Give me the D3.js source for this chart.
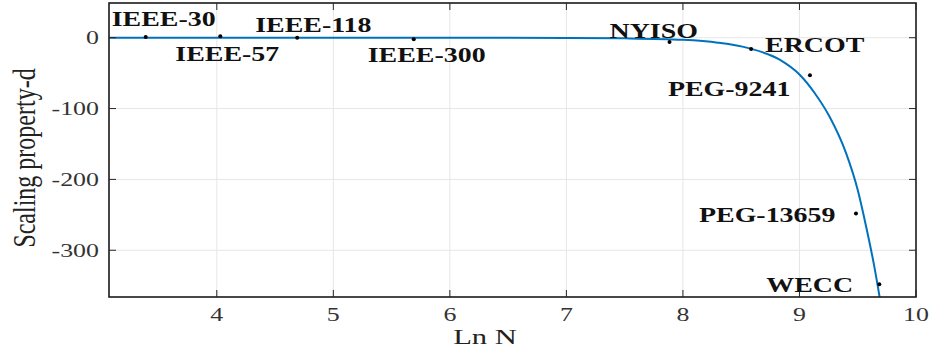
<!DOCTYPE html>
<html lang="en">
<head>
    <meta charset="UTF-8">
    <title>Scaling property-d vs Ln N</title>
    <script src="https://d3js.org/d3.v7.min.js"></script>
    <style>
        body { margin: 0; background: #fff; }
        svg { display: block; }
        .grid line { stroke: #e6e6e6; stroke-width: 1; }
        .tick-label { font-family: 'Liberation Serif', serif; font-size: 18.5px; fill: #333; }
        .sys-label { font-family: 'Liberation Serif', serif; font-size: 21px; font-weight: bold; fill: #111; }
        .axis-title { font-family: 'Liberation Serif', serif; fill: #222; }
    </style>
</head>
<body>
<div id="chart"></div>
<script>
    // test systems: name, ln of bus count, scaling property d
    const systems = ['IEEE-30', 'IEEE-57', 'IEEE-118', 'IEEE-300', 'NYISO', 'ERCOT', 'PEG-9241', 'PEG-13659', 'WECC'];
    const lnN = [3.39, 4.03, 4.69, 5.69, 7.885, 8.585, 9.09, 9.485, 9.685];
    const dValues = [1, 2, 0, -2, -6, -16, -53, -248, -348];

    // fitted curve
    const fitX = [3.075, 6.0, 7.0, 7.5, 8.0, 8.3, 8.57, 8.83, 9.0, 9.13, 9.26, 9.40, 9.50, 9.57, 9.64, 9.70];
    const fitY = [0, 0, -0.3, -0.9, -3, -7, -15, -31, -52, -78, -112, -163, -215, -265, -321, -378];

    const xTicks = [4, 5, 6, 7, 8, 9, 10];
    const yTicks = [0, -100, -200, -300];

    // label placement relative to each point (left edge, baseline)
    const labelDx = [-34, -45, -42, -46, -60, 14, -142, -157, -113];
    const labelDy = [-11, 25, -6, 23, -4, 3, 21, 9, 8];

    const width = 933, height = 354;
    const plotL = 109, plotR = 916, plotT = 3, plotB = 297;
    const stretch = 1.33;

    const svg = d3.select('#chart').append('svg')
        .attr('width', width)
        .attr('height', height);

    const x = d3.scaleLinear().domain([3.075, 10]).range([plotL, plotR]);
    const y = d3.scaleLinear().domain([-366, 49]).range([plotB, plotT]);

    // grid
    const grid = svg.append('g').attr('class', 'grid');
    grid.selectAll('.gx').data(xTicks.filter(t => t < 10)).enter().append('line')
        .attr('x1', d => x(d)).attr('x2', d => x(d))
        .attr('y1', plotT).attr('y2', plotB);
    grid.selectAll('.gy').data(yTicks).enter().append('line')
        .attr('x1', plotL).attr('x2', plotR)
        .attr('y1', d => y(d)).attr('y2', d => y(d));

    // fitted curve
    svg.append('clipPath').attr('id', 'clip')
        .append('rect').attr('x', plotL).attr('y', plotT)
        .attr('width', plotR - plotL).attr('height', plotB - plotT);

    const line = d3.line()
        .x((d, i) => x(fitX[i]))
        .y(d => y(d))
        .curve(d3.curveMonotoneX);

    svg.append('path')
        .datum(fitY)
        .attr('clip-path', 'url(#clip)')
        .attr('fill', 'none')
        .attr('stroke', '#0072BD')
        .attr('stroke-width', 2)
        .attr('d', line);

    // box and inward ticks on all sides
    svg.append('rect')
        .attr('x', plotL).attr('y', plotT)
        .attr('width', plotR - plotL).attr('height', plotB - plotT)
        .attr('fill', 'none').attr('stroke', '#1a1a1a').attr('stroke-width', 1.6);

    const tickLen = 7;
    const ticks = svg.append('g').attr('stroke', '#262626').attr('stroke-width', 1);
    xTicks.forEach(t => {
        ticks.append('line').attr('x1', x(t)).attr('x2', x(t)).attr('y1', plotB).attr('y2', plotB - tickLen);
        ticks.append('line').attr('x1', x(t)).attr('x2', x(t)).attr('y1', plotT).attr('y2', plotT + tickLen);
    });
    yTicks.forEach(t => {
        ticks.append('line').attr('x1', plotL).attr('x2', plotL + tickLen).attr('y1', y(t)).attr('y2', y(t));
        ticks.append('line').attr('x1', plotR).attr('x2', plotR - tickLen).attr('y1', y(t)).attr('y2', y(t));
    });

    // tick labels (the original figure is stretched horizontally)
    svg.selectAll('.xt').data(xTicks).enter().append('text')
        .attr('class', 'tick-label')
        .attr('text-anchor', 'middle')
        .attr('transform', d => `translate(${x(d)},321) scale(1.4,1)`)
        .text(d => d);

    svg.selectAll('.yt').data(yTicks).enter().append('text')
        .attr('class', 'tick-label')
        .attr('text-anchor', 'end')
        .attr('transform', d => `translate(99,${y(d) + 6.5}) scale(1.4,1)`)
        .text(d => d);

    // axis titles
    svg.append('text')
        .attr('class', 'axis-title')
        .attr('font-size', 22)
        .attr('text-anchor', 'middle')
        .attr('transform', 'translate(485,344) scale(1.39,1)')
        .text('Ln N');

    svg.append('text')
        .attr('class', 'axis-title')
        .attr('font-size', 24)
        .attr('text-anchor', 'middle')
        .attr('transform', 'translate(35,158) scale(1.3,1) rotate(-90)')
        .text('Scaling property-d');

    // points
    svg.selectAll('.pt').data(dValues).enter().append('circle')
        .attr('cx', (d, i) => x(lnN[i]))
        .attr('cy', d => y(d))
        .attr('r', 2)
        .attr('fill', '#000');

    // point labels
    svg.selectAll('.lbl').data(systems).enter().append('text')
        .attr('class', 'sys-label')
        .attr('transform', (d, i) =>
            `translate(${x(lnN[i]) + labelDx[i]},${y(dValues[i]) + labelDy[i]}) scale(${stretch},1)`)
        .text(d => d);
</script>
</body>
</html>
